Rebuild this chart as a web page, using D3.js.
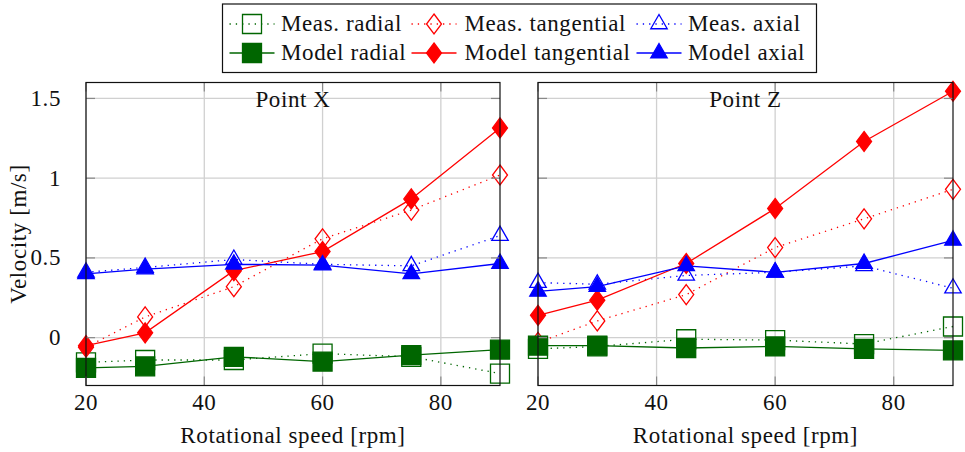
<!DOCTYPE html>
<html>
<head>
<meta charset="utf-8">
<script src="https://cdn.jsdelivr.net/npm/d3@7"></script>
<style>
  html, body { margin: 0; padding: 0; background: #fff; }
  svg { display: block; }
  svg text { font-family: "Liberation Serif", Tinos, "Times New Roman", "DejaVu Serif", serif !important; }
</style>
</head>
<body>
<svg id="chart" width="965" height="452"></svg>
<script>
// ---------- data ----------
const speeds = [20, 30, 45, 60, 75, 90];

const xMeasRadial      = [-0.155, -0.14, -0.14, -0.10, -0.12, -0.225];
const xMeasTangential  = [-0.06, 0.13, 0.32, 0.62, 0.80, 1.02];
const xMeasAxial       = [0.41, 0.44, 0.49, 0.46, 0.45, 0.64];
const xModelRadial     = [-0.19, -0.18, -0.12, -0.15, -0.11, -0.075];
const xModelTangential = [-0.05, 0.03, 0.42, 0.54, 0.87, 1.315];
const xModelAxial      = [0.40, 0.43, 0.46, 0.455, 0.40, 0.465];

const zMeasRadial      = [-0.07, -0.055, -0.01, -0.015, -0.04, 0.07];
const zMeasTangential  = [-0.03, 0.105, 0.27, 0.565, 0.745, 0.93];
const zMeasAxial       = [0.345, 0.335, 0.39, 0.41, 0.45, 0.31];
const zModelRadial     = [-0.05, -0.05, -0.065, -0.055, -0.07, -0.08];
const zModelTangential = [0.14, 0.235, 0.465, 0.81, 1.23, 1.545];
const zModelAxial      = [0.29, 0.32, 0.45, 0.41, 0.465, 0.61];

const xTicks = [20, 40, 60, 80];
const yTicks = [0, 0.5, 1, 1.5];
const yTickLabels = ["0", "0.5", "1", "1.5"];

const panelTitles = ["Point X", "Point Z"];
const seriesNames = ["Meas. radial", "Meas. tangential", "Meas. axial",
                     "Model radial", "Model tangential", "Model axial"];

// ---------- styling ----------
const FONT_STYLE = "font-family: 'Liberation Serif', Tinos, 'Times New Roman', serif;";
const FS = 23, LS = 0.6;
const GREEN = "#006600", RED = "#ff0000", BLUE = "#0000ff";
const seriesStyle = [
  {color: GREEN, shape: "square",   filled: false, dotted: true},
  {color: RED,   shape: "diamond",  filled: false, dotted: true},
  {color: BLUE,  shape: "triangle", filled: false, dotted: true},
  {color: GREEN, shape: "square",   filled: true,  dotted: false},
  {color: RED,   shape: "diamond",  filled: true,  dotted: false},
  {color: BLUE,  shape: "triangle", filled: true,  dotted: false}
];
const panels = [
  {title: panelTitles[0], left: 86, right: 500, showYLabels: true,
   series: [xMeasRadial, xMeasTangential, xMeasAxial, xModelRadial, xModelTangential, xModelAxial]},
  {title: panelTitles[1], left: 538, right: 953, showYLabels: false,
   series: [zMeasRadial, zMeasTangential, zMeasAxial, zModelRadial, zModelTangential, zModelAxial]}
];
const TOP = 82.5, BOTTOM = 385.5;

function markerPath(shape) {
  if (shape === "square") { const h = 9.5; return `M${-h},${-h}H${h}V${h}H${-h}Z`; }
  if (shape === "diamond") { const w = 7.5, h = 10; return `M0,${-h}L${w},0L0,${h}L${-w},0Z`; }
  const R = 9.5; return `M0,${-R}L${R*0.866},${R/2}L${-R*0.866},${R/2}Z`;
}
function drawMarker(g, st, x, y) {
  g.append("path").attr("d", markerPath(st.shape))
    .attr("transform", `translate(${x},${y})`)
    .attr("fill", st.filled ? st.color : "none")
    .attr("stroke", st.color).attr("stroke-width", 1.3)
    .attr("stroke-linejoin", "miter");
}
function txt(g, x, y, s, anchor) {
  return g.append("text").attr("x", x).attr("y", y)
    .attr("style", FONT_STYLE + ` font-size: ${FS}px; letter-spacing: ${LS}px;`)
    .attr("fill", "#111").attr("text-anchor", anchor || "start").text(s);
}

const svg = d3.select("#chart");

panels.forEach(p => {
  const x = d3.scaleLinear().domain([20, 90]).range([p.left, p.right]);
  const y = d3.scaleLinear().domain([-0.3, 1.6]).range([BOTTOM, TOP]);
  const g = svg.append("g");

  // grid
  g.selectAll(".gx").data(xTicks).join("line")
    .attr("x1", d => x(d)).attr("x2", d => x(d)).attr("y1", TOP).attr("y2", BOTTOM)
    .attr("stroke", "#d0d0d0").attr("stroke-width", 1.3);
  g.selectAll(".gy").data(yTicks).join("line")
    .attr("y1", d => y(d)).attr("y2", d => y(d)).attr("x1", p.left).attr("x2", p.right)
    .attr("stroke", "#d0d0d0").attr("stroke-width", 1.3);

  // series
  p.series.forEach((vals, si) => {
    const st = seriesStyle[si];
    const pts = speeds.map((s, i) => [x(s), y(vals[i])]);
    g.append("path").attr("d", d3.line()(pts))
      .attr("fill", "none").attr("stroke", st.color).attr("stroke-width", 1.3)
      .attr("stroke-dasharray", st.dotted ? "1.3,5" : null);
    pts.forEach(pt => drawMarker(g, st, pt[0], pt[1]));
  });

  // ticks (mirrored)
  const tl = 9, tc = "#888";
  xTicks.forEach(t => {
    g.append("line").attr("x1", x(t)).attr("x2", x(t)).attr("y1", BOTTOM).attr("y2", BOTTOM - tl).attr("stroke", tc).attr("stroke-width", 1.2);
    g.append("line").attr("x1", x(t)).attr("x2", x(t)).attr("y1", TOP).attr("y2", TOP + tl).attr("stroke", tc).attr("stroke-width", 1.2);
  });
  yTicks.forEach(t => {
    g.append("line").attr("x1", p.left).attr("x2", p.left + tl).attr("y1", y(t)).attr("y2", y(t)).attr("stroke", tc).attr("stroke-width", 1.2);
    g.append("line").attr("x1", p.right).attr("x2", p.right - tl).attr("y1", y(t)).attr("y2", y(t)).attr("stroke", tc).attr("stroke-width", 1.2);
  });

  // frame
  g.append("rect").attr("x", p.left).attr("y", TOP).attr("width", p.right - p.left).attr("height", BOTTOM - TOP)
    .attr("fill", "none").attr("stroke", "#111").attr("stroke-width", 1.2);

  // x tick labels
  xTicks.forEach(t => txt(g, x(t), 410, String(t), "middle"));
  if (p.showYLabels) {
    yTicks.forEach((t, i) => txt(g, 61, y(t) + 7.5, yTickLabels[i], "end"));
  }
  // x axis title
  txt(g, (p.left + p.right) / 2, 443, "Rotational speed [rpm]", "middle");
  // panel title
  txt(g, (p.left + p.right) / 2, 107, p.title, "middle");
});

// y axis title
txt(svg, 0, 0, "Velocity [m/s]", "middle")
  .attr("transform", `translate(26,${(TOP + BOTTOM) / 2}) rotate(-90)`);

// legend
const lg = svg.append("g");
lg.append("rect").attr("x", 222.5).attr("y", 4).attr("width", 594).attr("height", 68.5)
  .attr("fill", "#fff").attr("stroke", "#111").attr("stroke-width", 1.2);
const colMarker = [252, 434, 659];
const colText = [281, 464.5, 688];
const rowY = [24, 53];
seriesNames.forEach((name, i) => {
  const st = seriesStyle[i];
  const col = i % 3, row = Math.floor(i / 3);
  const cx = colMarker[col], cy = rowY[row];
  lg.append("line").attr("x1", cx - 22.5).attr("x2", cx + 22.5).attr("y1", cy).attr("y2", cy)
    .attr("stroke", st.color).attr("stroke-width", 1.3)
    .attr("stroke-dasharray", st.dotted ? "1.3,5" : null);
  drawMarker(lg, st, cx, cy);
  txt(lg, colText[col], cy + 6.5, name);
});
</script>
</body>
</html>
